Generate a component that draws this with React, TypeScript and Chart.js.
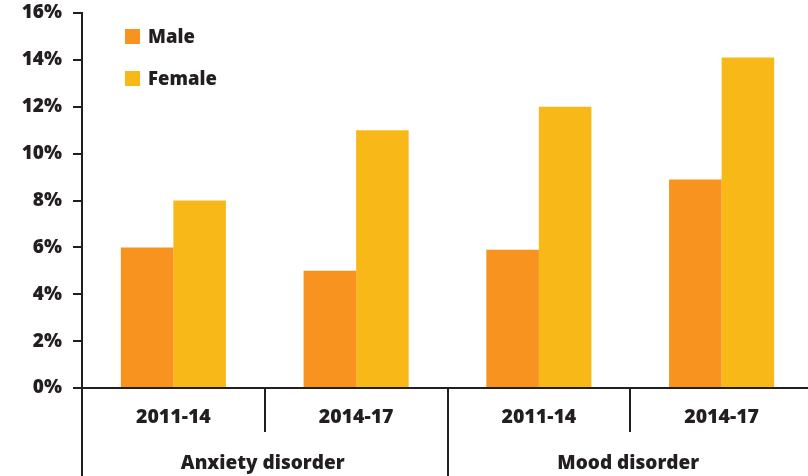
import React, { useEffect, useRef } from "react";
import { Chart, registerables } from "chart.js";

Chart.register(...registerables);

const categories = ["2011-14", "2014-17", "2011-14", "2014-17"];
const groups = ["Anxiety disorder", "Mood disorder"];
const maleValues = [6, 5, 5.9, 8.9];
const femaleValues = [8, 11, 12, 14.1];
const seriesNames = ["Male", "Female"];
const yTicks = [0, 2, 4, 6, 8, 10, 12, 14, 16];

const MALE_COLOR = "#F7931E";
const FEMALE_COLOR = "#F8B918";
const INK = "#231F20";
const FONT = '"Open Sans", "DejaVu Sans", sans-serif';

const overlayPlugin = {
  id: "overlay",
  afterDraw(chart: any) {
    const ctx = chart.ctx as CanvasRenderingContext2D;
    const area = chart.chartArea;
    const x = chart.scales.x;
    const H = chart.height;
    ctx.save();
    ctx.strokeStyle = INK;
    ctx.lineWidth = 2;
    // baseline
    ctx.beginPath();
    ctx.moveTo(area.left - 9, area.bottom);
    ctx.lineTo(area.right, area.bottom);
    ctx.stroke();
    // y axis extension
    ctx.beginPath();
    ctx.moveTo(area.left, area.bottom);
    ctx.lineTo(area.left, H);
    ctx.stroke();
    // separators
    const n = categories.length;
    const step = (area.right - area.left) / n;
    for (let i = 1; i < n; i++) {
      const sx = Math.round(area.left + step * i);
      ctx.beginPath();
      ctx.moveTo(sx, area.bottom);
      ctx.lineTo(sx, i % 2 === 0 ? H : area.bottom + 44);
      ctx.stroke();
    }
    // category labels
    ctx.fillStyle = INK;
    ctx.font = `800 19.5px ${FONT}`;
    ctx.textAlign = "center";
    ctx.textBaseline = "middle";
    categories.forEach((c, i) => {
      ctx.fillText(c, x.getPixelForValue(i), area.bottom + 29);
    });
    ctx.font = `800 19px ${FONT}`;
    groups.forEach((g, gi) => {
      const cx = (x.getPixelForValue(gi * 2) + x.getPixelForValue(gi * 2 + 1)) / 2;
      ctx.fillText(g, cx - 2, area.bottom + 76);
    });
    // legend
    const colors = [MALE_COLOR, FEMALE_COLOR];
    ctx.textAlign = "left";
    ctx.font = `800 18.5px ${FONT}`;
    seriesNames.forEach((s, i) => {
      const ly = 29 + i * 42;
      ctx.fillStyle = colors[i];
      ctx.fillRect(125, ly, 15, 15);
      ctx.fillStyle = INK;
      ctx.fillText(s, 148, ly + 9);
    });
    ctx.restore();
  },
};

export default function App() {
  const ref = useRef<HTMLCanvasElement>(null);
  useEffect(() => {
    document.body.style.margin = "0";
    const chart = new Chart(ref.current!, {
      type: "bar",
      data: {
        labels: categories,
        datasets: [
          { label: seriesNames[0], data: maleValues, backgroundColor: MALE_COLOR },
          { label: seriesNames[1], data: femaleValues, backgroundColor: FEMALE_COLOR },
        ],
      },
      options: {
        animation: false,
        responsive: false,
        devicePixelRatio: 1,
        layout: { padding: { top: 13, bottom: 88, left: 0, right: 0 } },
        datasets: { bar: { categoryPercentage: 0.575, barPercentage: 1 } },
        plugins: { legend: { display: false }, tooltip: { enabled: false } },
        scales: {
          x: { display: false },
          y: {
            min: 0,
            max: 16,
            afterFit(scale: any) {
              scale.width = 82;
              scale.paddingTop = 0;
              scale.paddingBottom = 0;
            },
            afterBuildTicks(scale: any) {
              scale.ticks = yTicks.map((v) => ({ value: v }));
            },
            ticks: {
              callback: (v: any) => `${v}%`,
              color: INK,
              font: { family: FONT, size: 19, weight: "800" },
              padding: 11,
            },
            grid: {
              drawOnChartArea: false,
              drawTicks: true,
              tickLength: 9,
              color: INK,
              lineWidth: 2,
            },
            border: { display: true, color: INK, width: 2 },
          },
        },
      },
      plugins: [overlayPlugin],
    } as any);
    return () => chart.destroy();
  }, []);
  return (
    <div style={{ position: "fixed", left: 0, top: 0, width: 808, height: 476, overflow: "hidden", background: "#fff" }}>
      <canvas ref={ref} width={813} height={476} style={{ display: "block" }} />
    </div>
  );
}
